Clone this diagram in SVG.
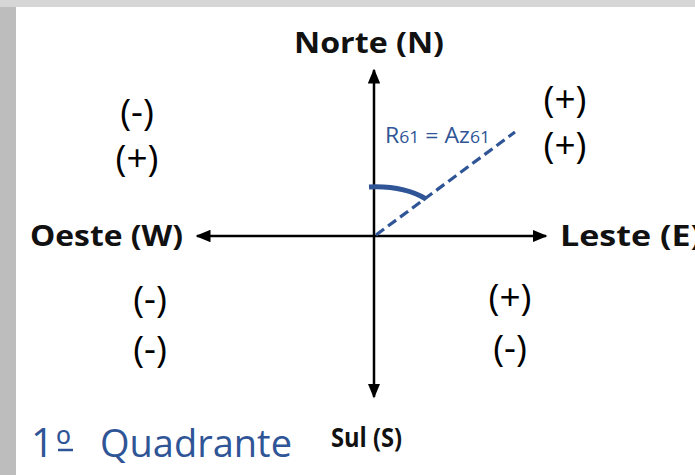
<svg xmlns="http://www.w3.org/2000/svg" width="695" height="475" viewBox="0 0 695 475">
<style>
.lbl{font-family:"Open Sans","Noto Sans",sans-serif;font-weight:bold;font-size:29px;fill:#111;}
.sign{font-family:"Open Sans","Noto Sans",sans-serif;font-size:37px;fill:#000;text-anchor:middle;}
.axis{stroke:#000;stroke-width:2.5;fill:none;}
.blue{fill:#2f5597;font-family:"Open Sans","Noto Sans",sans-serif;}
</style>
<defs>
<marker id="ah" viewBox="0 0 10 10" refX="9" refY="5" markerWidth="6" markerHeight="5" orient="auto" markerUnits="strokeWidth" preserveAspectRatio="none">
<path d="M0 0 L10 5 L0 10 Z" fill="#000"/>
</marker>
<linearGradient id="lg" x1="0" y1="0" x2="1" y2="0">
<stop offset="0" stop-color="#bdbdbd"/>
<stop offset="1" stop-color="#d4d4d4"/>
</linearGradient>
</defs>
<rect x="0" y="0" width="695" height="475" fill="url(#lg)"/>
<rect x="0" y="0" width="695" height="7" fill="#d6d6d6"/>
<rect x="16" y="7" width="679" height="468" fill="#ffffff"/>
<g id="connectors">
<line class="axis" x1="374" y1="236" x2="374" y2="70" marker-end="url(#ah)"/>
<line class="axis" x1="374" y1="236" x2="374" y2="397" marker-end="url(#ah)"/>
<line class="axis" x1="374" y1="236" x2="197" y2="236" marker-end="url(#ah)"/>
<line class="axis" x1="374" y1="236" x2="546" y2="236" marker-end="url(#ah)"/>
<line x1="376" y1="235" x2="515" y2="132" stroke="#2f5597" stroke-width="3.2" stroke-dasharray="10,5"/>
<path d="M369 187 C391 186 411 190 426 199" stroke="#2f5597" stroke-width="5" fill="none"/>
</g>
<g id="north"><text class="lbl" x="294" y="53" textLength="150" lengthAdjust="spacingAndGlyphs">Norte (N)</text></g>
<g id="south"><text class="lbl" x="331" y="447" textLength="71" lengthAdjust="spacingAndGlyphs" style="font-size:26px">Sul (S)</text></g>
<g id="west"><text class="lbl" x="30" y="246" textLength="153" lengthAdjust="spacingAndGlyphs">Oeste (W)</text></g>
<g id="east"><text class="lbl" x="560" y="246" textLength="142" lengthAdjust="spacingAndGlyphs">Leste (E)</text></g>
<g id="azimuth"><text class="blue" x="385" y="143" font-size="21" textLength="105" lengthAdjust="spacingAndGlyphs">R<tspan font-size="16">61</tspan> = Az<tspan font-size="16">61</tspan></text></g>
<g id="q1"><text class="sign" x="565" y="112">(+)</text><text class="sign" x="565" y="158">(+)</text></g>
<g id="q4"><text class="sign" x="137" y="125">(-)</text><text class="sign" x="137" y="171">(+)</text></g>
<g id="q3"><text class="sign" x="150" y="312">(-)</text><text class="sign" x="150" y="362">(-)</text></g>
<g id="q2"><text class="sign" x="510" y="310">(+)</text><text class="sign" x="510" y="361">(-)</text></g>
<g id="title">
<text class="blue" x="31" y="457" font-size="40">1</text>
<text class="blue" x="56" y="459" font-size="40">º</text>
<line x1="58" y1="450" x2="73" y2="450" stroke="#2f5597" stroke-width="2.5"/>
<text class="blue" x="100" y="457" font-size="39" textLength="192" lengthAdjust="spacingAndGlyphs">Quadrante</text>
</g>
</svg>
